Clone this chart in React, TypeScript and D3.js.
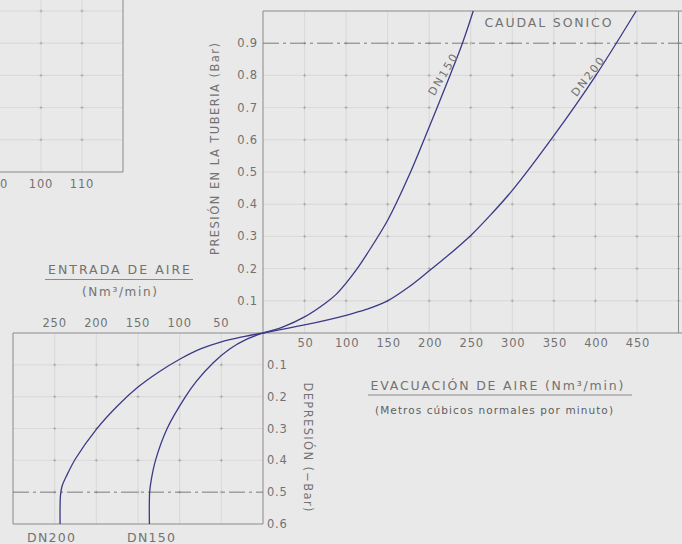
import React, { useEffect } from "react";
import * as d3 from "d3";

// ---- data ----
// Evacuation (top-right): [flow Nm3/min, pressure Bar]
const evacDN150: [number, number][] = [
  [0, 0], [25, 0.02], [50, 0.05], [75, 0.0925], [88, 0.12], [100, 0.155], [112, 0.195], [125, 0.245], [150, 0.35],
  [175, 0.485], [200, 0.64], [225, 0.8], [240, 0.9], [253, 1.0],
];
const evacDN200: [number, number][] = [
  [0, 0], [50, 0.025], [100, 0.055], [125, 0.074], [150, 0.1], [175, 0.142], [200, 0.193], [225, 0.246],
  [250, 0.303], [275, 0.37], [300, 0.443], [350, 0.613], [400, 0.798], [449, 1.0],
];
// Entrance (bottom-left): [flow Nm3/min, depression -Bar]
const entDN150: [number, number][] = [
  [0, 0], [20, 0.02], [40, 0.05], [60, 0.094], [80, 0.152], [93, 0.2], [115, 0.3],
  [129, 0.4], [134, 0.46], [136, 0.5], [136.3, 0.6],
];
const entDN200: [number, number][] = [
  [0, 0], [25, 0.0125], [50, 0.0275], [75, 0.05], [100, 0.0825], [125, 0.1225], [150, 0.17],
  [175, 0.23], [200, 0.3025], [225, 0.395], [236, 0.45], [241, 0.48], [243, 0.51], [243.5, 0.6],
];
const evacXTicks = [50, 100, 150, 200, 250, 300, 350, 400, 450];
const evacXGrid = [50, 100, 150, 200, 250, 300, 350, 400, 450, 500];
const pressTicks = [0.1, 0.2, 0.3, 0.4, 0.5, 0.6, 0.7, 0.8, 0.9];
const pressGrid = [0.1, 0.2, 0.3, 0.4, 0.5, 0.6, 0.7, 0.8];
const entXTicks = [250, 200, 150, 100, 50];
const depTicks = [0.1, 0.2, 0.3, 0.4, 0.5, 0.6];
const depGrid = [0.1, 0.2, 0.3, 0.4];
const sideXTicks = [90, 100, 110];
const sideXGrid = [100, 110];
const sideYGrid = [0.6, 0.7, 0.8, 0.9, 1.0];
const sonicLimit = 0.9;
const depLimit = 0.5;

const W = 682, H = 544;
const xR = d3.scaleLinear().domain([0, 500]).range([263, 678.5]);
const yT = d3.scaleLinear().domain([0, 1]).range([333, 11]);
const xL = d3.scaleLinear().domain([0, 300]).range([263, 13]);
const yB = d3.scaleLinear().domain([0, 0.6]).range([333, 524]);
const xS = d3.scaleLinear().domain([90, 120]).range([0, 123]);

const font = "'DejaVu Sans', 'Liberation Sans', sans-serif";
const txt = "#727272";
const gridC = "#d6d3d3";
const frameC = "#8a8a8a";
const curveC = "#3b3a86";
const dashC = "#7a7a7a";
const dashArr = "16,4,3,4";

export default function App() {
  useEffect(() => {
    document.body.style.margin = "0";
    document.body.style.background = "#e9e9e9";
  }, []);

  const curve = d3.curveCatmullRom.alpha(0.5);
  const lineR = d3.line<[number, number]>().x(d => xR(d[0])).y(d => yT(d[1])).curve(curve);
  const lineL = d3.line<[number, number]>().x(d => xL(d[0])).y(d => yB(d[1])).curve(curve);

  const crosses: JSX.Element[] = [];
  const addCross = (x: number, y: number, k: string) => {
    crosses.push(
      <g key={k} stroke="#a9a4a4" strokeWidth={0.8}>
        <line x1={x - 1.5} x2={x + 1.5} y1={y} y2={y} />
        <line x1={x} x2={x} y1={y - 1.5} y2={y + 1.5} />
      </g>
    );
  };
  evacXGrid.forEach(v => pressGrid.concat([0.9]).forEach(p => addCross(xR(v), yT(p), `r${v}-${p}`)));
  entXTicks.forEach(v => depGrid.concat([0.5]).forEach(p => addCross(xL(v), yB(p), `l${v}-${p}`)));
  sideXGrid.forEach(v => sideYGrid.forEach(p => addCross(xS(v), yT(p), `s${v}-${p}`)));

  return (
    <svg width={W} height={H} style={{ position: "absolute", left: 0, top: 0, background: "#e9e9e9" }} fontFamily={font}>
      <rect x={0} y={0} width={W} height={H} fill="#e9e9e9" />

      {/* side (top-left) partial chart */}
      <g stroke={gridC} strokeWidth={0.8}>
        {sideXGrid.map(v => <line key={v} x1={xS(v)} x2={xS(v)} y1={0} y2={yT(0.5)} />)}
        {sideYGrid.map(p => <line key={p} x1={0} x2={xS(120)} y1={yT(p)} y2={yT(p)} />)}
      </g>
      <g stroke={frameC} strokeWidth={1} fill="none">
        <line x1={xS(120)} x2={xS(120)} y1={0} y2={yT(0.5)} />
        <line x1={0} x2={xS(120)} y1={yT(0.5)} y2={yT(0.5)} />
      </g>
      {sideXTicks.map(v => (
        <text key={v} x={xS(v)} y={184} fontSize={11.5} fill={txt} textAnchor="middle" dominantBaseline="central" letterSpacing={0.8}>{v}</text>
      ))}

      {/* top-right grid */}
      <g stroke={gridC} strokeWidth={0.8}>
        {evacXGrid.map(v => <line key={v} x1={xR(v)} x2={xR(v)} y1={yT(1)} y2={yT(0)} />)}
        {pressGrid.map(p => <line key={p} x1={xR(0)} x2={W} y1={yT(p)} y2={yT(p)} />)}
      </g>
      {/* bottom-left grid */}
      <g stroke={gridC} strokeWidth={0.8}>
        {entXTicks.map(v => <line key={v} x1={xL(v)} x2={xL(v)} y1={yB(0)} y2={yB(0.6)} />)}
        {depGrid.map(p => <line key={p} x1={xL(300)} x2={xL(0)} y1={yB(p)} y2={yB(p)} />)}
      </g>
      {crosses}

      {/* frames */}
      <g stroke={frameC} strokeWidth={1} fill="none">
        <line x1={xR(0)} x2={W} y1={yT(1)} y2={yT(1)} />
        <line x1={xR(0)} x2={xR(0)} y1={yT(1)} y2={yB(0.6)} />
        <line x1={xL(300)} x2={W} y1={yT(0)} y2={yT(0)} />
        <line x1={xL(300)} x2={xL(300)} y1={yB(0)} y2={yB(0.6)} />
        <line x1={xL(300)} x2={xL(0)} y1={yB(0.6)} y2={yB(0.6)} />
        <line x1={xR(500)} x2={xR(500)} y1={yT(1)} y2={yT(0)} />
      </g>

      {/* dash-dot limits */}
      <line x1={xR(0)} x2={W} y1={yT(sonicLimit)} y2={yT(sonicLimit)} stroke={dashC} strokeWidth={1} strokeDasharray={dashArr} />
      <line x1={xL(300)} x2={xL(0)} y1={yB(depLimit)} y2={yB(depLimit)} stroke={dashC} strokeWidth={1} strokeDasharray={dashArr} />

      {/* curves */}
      <g fill="none" stroke={curveC} strokeWidth={1.3}>
        <path d={lineR(evacDN150) || ""} />
        <path d={lineR(evacDN200) || ""} />
        <path d={lineL(entDN150) || ""} />
        <path d={lineL(entDN200) || ""} />
      </g>

      {/* tick labels */}
      {pressTicks.map(p => (
        <text key={p} x={258} y={yT(p)} fontSize={11.5} fill={txt} textAnchor="end" dominantBaseline="central" letterSpacing={0.8}>{p.toFixed(1)}</text>
      ))}
      {evacXTicks.map(v => (
        <text key={v} x={xR(v) + 1} y={343} fontSize={11.5} fill={txt} textAnchor="middle" dominantBaseline="central" letterSpacing={0.8}>{v}</text>
      ))}
      {entXTicks.map(v => (
        <text key={v} x={xL(v)} y={323} fontSize={11.5} fill={txt} textAnchor="middle" dominantBaseline="central" letterSpacing={0.8}>{v}</text>
      ))}
      {depTicks.map(p => (
        <text key={p} x={267} y={yB(p)} fontSize={11.5} fill={txt} textAnchor="start" dominantBaseline="central" letterSpacing={0.8}>{p.toFixed(1)}</text>
      ))}

      {/* axis titles */}
      <text transform="translate(215,149) rotate(-90)" fontSize={11.5} fill={txt} textAnchor="middle" dominantBaseline="central" textLength={212} lengthAdjust="spacing">PRESIÓN EN LA TUBERIA (Bar)</text>
      <text transform="translate(308,447) rotate(90)" fontSize={11.5} fill={txt} textAnchor="middle" dominantBaseline="central" textLength={129} lengthAdjust="spacing">DEPRESIÓN (−Bar)</text>
      <text x={548} y={22} fontSize={12.5} fill={txt} textAnchor="middle" dominantBaseline="central" textLength={127} lengthAdjust="spacing">CAUDAL SONICO</text>

      <text x={119} y={269} fontSize={12.5} fill={txt} textAnchor="middle" dominantBaseline="central" textLength={142} lengthAdjust="spacing">ENTRADA DE AIRE</text>
      <line x1={45} x2={193} y1={279.5} y2={279.5} stroke={frameC} strokeWidth={1} />
      <text x={119.5} y={292} fontSize={12} fill={txt} textAnchor="middle" dominantBaseline="central" textLength={75} lengthAdjust="spacing">(Nm³/min)</text>

      <text x={497} y={385} fontSize={12.5} fill={txt} textAnchor="middle" dominantBaseline="central" textLength={253} lengthAdjust="spacing">EVACUACIÓN DE AIRE (Nm³/min)</text>
      <line x1={368} x2={632} y1={395} y2={395} stroke={frameC} strokeWidth={1} />
      <text x={494} y={410} fontSize={10.5} fill="#5e5e5e" textAnchor="middle" dominantBaseline="central" textLength={238} lengthAdjust="spacing">(Metros cúbicos normales por minuto)</text>

      {/* curve labels */}
      <text transform="translate(443,75) rotate(-59)" fontSize={11} fill={txt} textAnchor="middle" dominantBaseline="central" textLength={46} lengthAdjust="spacing">DN150</text>
      <text transform="translate(588,77) rotate(-52)" fontSize={11} fill={txt} textAnchor="middle" dominantBaseline="central" textLength={46} lengthAdjust="spacing">DN200</text>
      <text x={51} y={537} fontSize={12.5} fill={txt} textAnchor="middle" dominantBaseline="central" textLength={48} lengthAdjust="spacing">DN200</text>
      <text x={151} y={537} fontSize={12.5} fill={txt} textAnchor="middle" dominantBaseline="central" textLength={48} lengthAdjust="spacing">DN150</text>
    </svg>
  );
}
